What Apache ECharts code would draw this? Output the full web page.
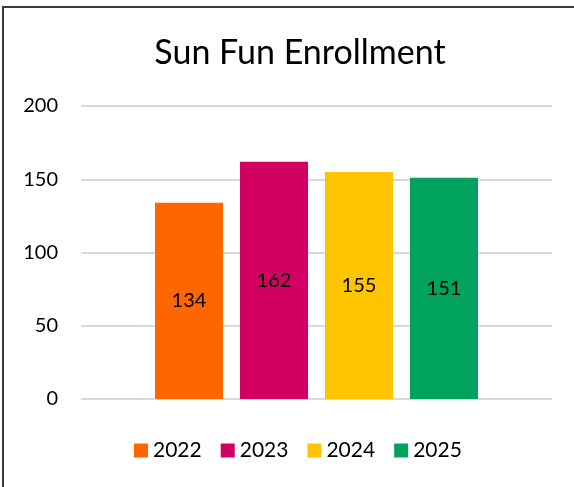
<!DOCTYPE html>
<html>
<head>
    <meta charset="utf-8">
    <script src="https://cdn.jsdelivr.net/npm/echarts@6/dist/echarts.min.js"></script>
    <style>
        body { margin: 0; background: #fff; }
    </style>
</head>
<body>
    <div id="main" style="width: 574px;height:487px;"></div>
    <script type="text/javascript">
        // data
        var categories = ['Enrollment'];
        var years = ['2022', '2023', '2024', '2025'];
        var enroll2022 = [134];
        var enroll2023 = [162];
        var enroll2024 = [155];
        var enroll2025 = [151];
        var colors = ['#FF6600', '#D10062', '#FFC400', '#00A25D'];

        var myChart = echarts.init(document.getElementById('main'));
        var font = 'Lato';

        function makeBar(name, data, color) {
            return {
                name: name,
                type: 'bar',
                data: data,
                barWidth: 68,
                barGap: '25%',
                itemStyle: { color: color },
                label: {
                    show: true,
                    position: 'inside',
                    color: '#000',
                    fontFamily: font,
                    fontSize: 20
                }
            };
        }

        myChart.setOption({
            animation: false,
            color: colors,
            title: {
                text: 'Sun Fun Enrollment',
                left: 295,
                top: 31,
                textAlign: 'center',
                textStyle: {
                    fontFamily: font,
                    fontSize: 34,
                    fontWeight: 'normal',
                    color: '#000'
                }
            },
            legend: {
                data: years,
                left: 134,
                top: 440,
                padding: 0,
                icon: 'rect',
                itemWidth: 14,
                itemHeight: 14,
                itemGap: 19,
                textStyle: {
                    fontFamily: font,
                    fontSize: 21,
                    color: '#000',
                    padding: [0, 0, 0, 0]
                }
            },
            grid: {
                left: 81,
                right: 22,
                top: 106,
                bottom: 88
            },
            xAxis: {
                type: 'category',
                data: categories,
                axisLine: { show: false },
                axisTick: { show: false },
                axisLabel: { show: false }
            },
            yAxis: {
                type: 'value',
                min: 0,
                max: 200,
                interval: 50,
                axisLine: { show: false },
                axisTick: { show: false },
                axisLabel: {
                    margin: 23,
                    color: '#000',
                    fontFamily: font,
                    fontSize: 20
                },
                splitLine: {
                    lineStyle: { color: '#D9D9D9', width: 2 }
                }
            },
            graphic: [
                {
                    type: 'rect',
                    shape: { x: 3, y: 7, width: 700, height: 700 },
                    style: { fill: 'none', stroke: '#3a3a3a', lineWidth: 2 },
                    silent: true
                }
            ],
            series: [
                makeBar(years[0], enroll2022, colors[0]),
                makeBar(years[1], enroll2023, colors[1]),
                makeBar(years[2], enroll2024, colors[2]),
                makeBar(years[3], enroll2025, colors[3])
            ]
        });
    </script>
</body>
</html>
